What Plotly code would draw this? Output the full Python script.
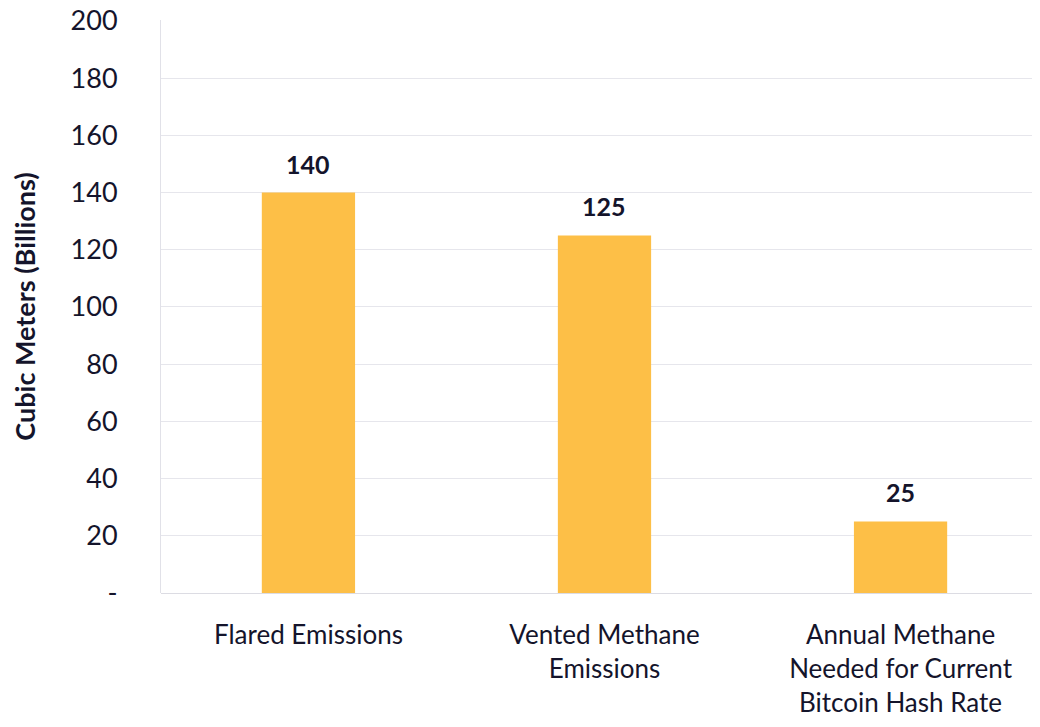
import plotly.graph_objects as go

categories = ["Flared Emissions", "Vented Methane<br>Emissions",
              "Annual Methane<br>Needed for Current<br>Bitcoin Hash Rate"]
values = [140, 125, 25]
y_ticks = [0, 20, 40, 60, 80, 100, 120, 140, 160, 180, 200]
y_ticklabels = ["-"] + [str(v) for v in y_ticks[1:]]

ink = "#14142b"
font = "Lato, 'Noto Sans', sans-serif"

fig = go.Figure(go.Bar(
    x=categories, y=values,
    marker=dict(color="#fdbf47", line=dict(width=0)),
    width=0.315,
    hoverinfo="skip",
))

# value labels above the bars
for c, v in zip(categories, values):
    fig.add_annotation(x=c, y=v, text=f"<b>{v}</b>", showarrow=False,
                       yanchor="bottom", yshift=12,
                       font=dict(size=25, color=ink, family=font))

# page body adds an 8px margin, so the figure is a bit smaller than the window
fig.update_layout(
    width=1024, height=711,
    margin=dict(l=153, r=0, t=12, b=126),
    plot_bgcolor="white", paper_bgcolor="white",
    font=dict(family=font, color=ink, size=26),
    showlegend=False,
)
fig.update_xaxes(range=[-0.498, 2.444], showgrid=False, ticks="",
                 automargin=False,
                 tickfont=dict(size=26), ticklabelstandoff=24)
fig.update_yaxes(range=[0, 200.3], tickvals=y_ticks, ticktext=y_ticklabels,
                 automargin=False, ticklabeloverflow="allow",
                 showgrid=True, gridcolor="#e6e6ec", gridwidth=1,
                 showline=True, linecolor="#e1e1e8", linewidth=1,
                 zeroline=True, zerolinecolor="#dcdce3", zerolinewidth=1,
                 ticks="", tickfont=dict(size=27), ticklabelstandoff=37,
                 title=dict(text="<b>Cubic Meters (Billions)</b>",
                            font=dict(size=27), standoff=32))

fig.write_html("out.html")
